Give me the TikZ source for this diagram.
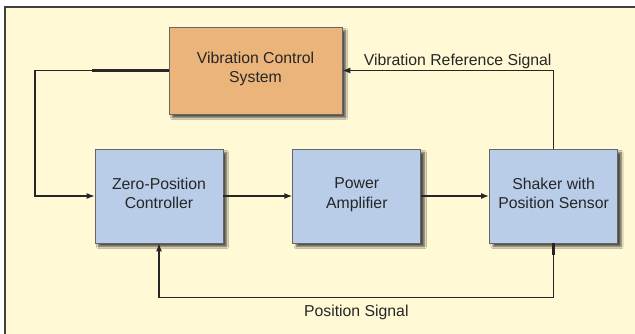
\documentclass[tikz,border=0pt]{standalone}
\usepackage{fontspec}
\setmainfont{Liberation Sans}
\usetikzlibrary{positioning,arrows.meta,shadows.blur}

\definecolor{paper}{RGB}{255,249,214}
\definecolor{orangebox}{RGB}{235,180,122}
\definecolor{bluebox}{RGB}{185,205,233}
\definecolor{ink}{RGB}{38,38,38}

\tikzstyle{block}=[draw=black!60, line width=0.8pt, fill=bluebox, inner sep=0pt,
  minimum width=128pt, minimum height=94pt, align=center, text=ink,
  font=\fontsize{15.8}{19.3}\selectfont,
  execute at begin node=\strut, execute at end node=\strut,
  blur shadow={shadow xshift=3.5pt, shadow yshift=-3.5pt, shadow blur steps=6, shadow opacity=70}]
\tikzstyle{ctrlblock}=[block, fill=orangebox, minimum width=173pt, minimum height=87pt]
\tikzstyle{sig}=[draw=ink, line width=1.1pt, -{Latex[length=8pt,width=6pt]}]
\tikzstyle{bus}=[draw=ink, line width=2.8pt]
\tikzstyle{lbl}=[text=ink, font=\fontsize{15.8}{19.3}\selectfont, inner sep=0pt]

\begin{document}
\begin{tikzpicture}[x=1pt, y=-1pt, node distance=69pt]

\clip (0,0) rectangle (635,333);
\draw[line width=1.8pt, draw=black!75, fill=paper] (5,7) rectangle (660,360);

\node[block] (zpc) at (159,196) {Zero-Position\\Controller};
\node[block, right=of zpc] (pa) {Power\\Amplifier};
\node[block, right=68pt of pa] (shaker) {Shaker with\\Position Sensor};
\node[ctrlblock] (vcs) at (255.5,70.5) {Vibration Control\\System};

\coordinate (loop) at (35,133);

\draw[sig] (vcs.west) -| (loop) |- (zpc.west);
\draw[bus] (vcs.west) -- ++(-77,0);

\draw[sig, line width=2pt] (zpc) -- (pa);
\draw[sig, line width=2.8pt] (pa) -- (shaker);

\draw[sig] (shaker.north) |- (vcs.east)
  node[lbl, pos=0.5, anchor=base east, xshift=-1.5pt, yshift=5pt] (refsig) {Vibration Reference Signal};

\draw[sig] (shaker.south) -- ++(0,54) -| (zpc.south)
  node[lbl, pos=0.25, anchor=base, yshift=-19pt] (possig) {Position Signal};
\draw[bus] (shaker.south) -- ++(0,12);

\end{tikzpicture}
\end{document}
